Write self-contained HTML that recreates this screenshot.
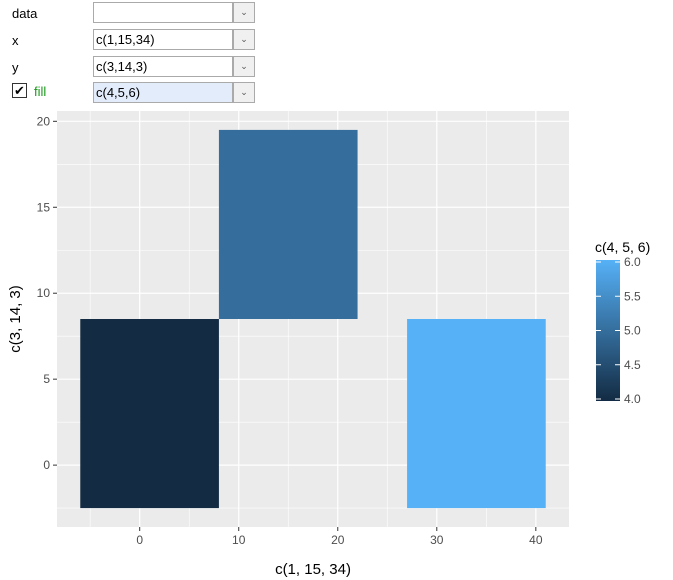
<!DOCTYPE html>
<html><head><meta charset="utf-8"><style>
body{margin:0;width:673px;height:580px;background:#fff;font-family:"Liberation Sans",sans-serif;position:relative;overflow:hidden}
.lbl{position:absolute;font-size:13px;color:#000;left:12px}
.inp{position:absolute;left:93px;width:136px;height:19px;border:1px solid #aaa;background:#fff;font-size:13px;line-height:19px;padding-left:2px;box-sizing:content-box}
.dd{position:absolute;left:233px;width:20px;height:19px;border:1px solid #aaa;background:#f0f0f0;font-size:9px;text-align:center;line-height:19px;color:#555}
</style></head><body>
<div class="lbl" style="top:6px">data</div>
<div class="inp" style="top:2px"></div>
<div class="dd" style="top:2px">&#8964;</div>
<div class="lbl" style="top:33px">x</div>
<div class="inp" style="top:29px">c(1,15,34)</div>
<div class="dd" style="top:29px">&#8964;</div>
<div class="lbl" style="top:60px">y</div>
<div class="inp" style="top:56px">c(3,14,3)</div>
<div class="dd" style="top:56px">&#8964;</div>
<div style="position:absolute;left:12px;top:83px;width:13px;height:13px;border:1px solid #333;font-size:13px;line-height:13px;text-align:center">&#10004;</div>
<div class="lbl" style="top:84px;left:34px;color:#1a9a1a">fill</div>
<div class="inp" style="top:82px;background:#e3ecfb">c(4,5,6)</div>
<div class="dd" style="top:82px">&#8964;</div>
<svg id="chart" width="673" height="580" style="position:absolute;left:0;top:0">
<defs><linearGradient id="g" x1="0" y1="1" x2="0" y2="0"><stop offset="0" stop-color="#132B43"/><stop offset="1" stop-color="#56B1F7"/></linearGradient></defs>
</svg>
<script>
const xs=[1,15,34];
const ys=[3,14,3];
const fills=[4,5,6];
const xTicks=[0,10,20,30,40];
const yTicks=[0,5,10,15,20];
const legendTicks=[4.0,4.5,5.0,5.5,6.0];
const svg=document.getElementById('chart');
const NS='http://www.w3.org/2000/svg';
function mk(t,a,p){const e=document.createElementNS(NS,t);for(const k in a)e.setAttribute(k,a[k]);(p||svg).appendChild(e);return e;}
function res(a){const s=[...new Set(a)].sort((p,q)=>p-q);let r=Infinity;for(let i=1;i<s.length;i++)r=Math.min(r,s[i]-s[i-1]);return isFinite(r)?r:1;}
const w=res(xs),h=res(ys);
let x0=Math.min(...xs)-w/2,x1=Math.max(...xs)+w/2,y0=Math.min(...ys)-h/2,y1=Math.max(...ys)+h/2;
const ex=(x1-x0)*0.05,ey=(y1-y0)*0.05;x0-=ex;x1+=ex;y0-=ey;y1+=ey;
const L=57,R=569,T=111,B=527;
const sx=v=>L+(v-x0)/(x1-x0)*(R-L);
const sy=v=>B-(v-y0)/(y1-y0)*(B-T);
let e=mk('rect',{x:L,y:T,width:R-L,height:B-T,fill:'#EBEBEB'});

function minors(t){const m=[];for(let i=0;i<t.length-1;i++)m.push((t[i]+t[i+1])/2);m.unshift(t[0]-(t[1]-t[0])/2);m.push(t[t.length-1]+(t[1]-t[0])/2);return m;}
minors(xTicks).forEach(v=>{if(v>x0&&v<x1)mk('line',{x1:sx(v),x2:sx(v),y1:T,y2:B,stroke:'#fff','stroke-width':0.6});});
minors(yTicks).forEach(v=>{if(v>y0&&v<y1)mk('line',{x1:L,x2:R,y1:sy(v),y2:sy(v),stroke:'#fff','stroke-width':0.6});});
xTicks.forEach(v=>{mk('line',{x1:sx(v),x2:sx(v),y1:T,y2:B,stroke:'#fff','stroke-width':1.2});
 mk('line',{x1:sx(v),x2:sx(v),y1:B,y2:B+4,stroke:'#333'});
 const t=mk('text',{x:sx(v),y:B+17,'text-anchor':'middle','font-size':12,fill:'#4d4d4d'});t.textContent=v;
 });
yTicks.forEach(v=>{mk('line',{x1:L,x2:R,y1:sy(v),y2:sy(v),stroke:'#fff','stroke-width':1.2});
 mk('line',{x1:L-4,x2:L,y1:sy(v),y2:sy(v),stroke:'#333'});
 const t=mk('text',{x:L-7,y:sy(v)+4,'text-anchor':'end','font-size':12,fill:'#4d4d4d'});t.textContent=v;
 });
const fmin=Math.min(...fills),fmax=Math.max(...fills);
function col(v){const t=(v-fmin)/(fmax-fmin);const a=[0x13,0x2B,0x43],b=[0x56,0xB1,0xF7];return 'rgb('+a.map((c,i)=>Math.round(c+(b[i]-c)*t)).join(',')+')';}
xs.forEach((x,i)=>{const r=mk('rect',{x:sx(x-w/2),y:sy(ys[i]+h/2),width:sx(x+w/2)-sx(x-w/2),height:sy(ys[i]-h/2)-sy(ys[i]+h/2),fill:col(fills[i])});
 });
let t=mk('text',{x:(L+R)/2,y:574,'text-anchor':'middle','font-size':15,fill:'#000'});t.textContent='c(1, 15, 34)';

t=mk('text',{x:0,y:0,'text-anchor':'middle','font-size':15,fill:'#000',transform:'translate(20,'+((T+B)/2)+') rotate(-90)'});t.textContent='c(3, 14, 3)';

// legend
const LT=262,LB=399,LX=596,LW=24;
t=mk('text',{x:595,y:252,'font-size':14,fill:'#000'});t.textContent='c(4, 5, 6)';

e=mk('rect',{x:LX,y:LT-2,width:LW,height:LB-LT+4,fill:'url(#g)'});

const ly=v=>LB-(v-fmin)/(fmax-fmin)*(LB-LT);
legendTicks.forEach(v=>{mk('line',{x1:LX,x2:LX+5,y1:ly(v),y2:ly(v),stroke:'#fff'});mk('line',{x1:LX+LW-5,x2:LX+LW,y1:ly(v),y2:ly(v),stroke:'#fff'});
 const tt=mk('text',{x:LX+LW+4,y:ly(v)+4,'font-size':12,fill:'#4d4d4d'});tt.textContent=v.toFixed(1);
 });
</script>
</body></html>
